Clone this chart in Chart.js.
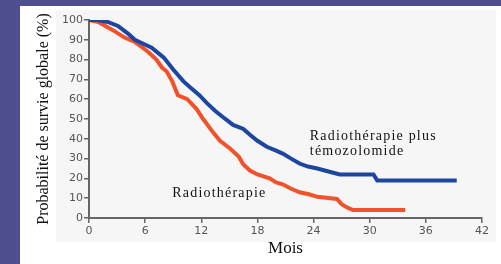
<!DOCTYPE html>
<html>
<head>
<meta charset="utf-8">
<script src="https://cdn.jsdelivr.net/npm/chart.js@4"></script>
<style>
  html, body { margin: 0; padding: 0; background: #4f4f8f; }
  #wrap { position: absolute; left: 0; top: 0; width: 501px; height: 264px; }
  #panel { position: absolute; left: 20px; top: 6px; right: 0; bottom: 0; background: #ffffff; }
  #plotbg { position: absolute; left: 56px; top: 10px; width: 440px; height: 232px; background: #f6f6f6; }
  canvas { position: absolute; left: 0; top: 0; }
</style>
</head>
<body>
<div id="wrap">
  <div id="panel"></div>
  <div id="plotbg"></div>
  <canvas id="myChart" width="501" height="264"></canvas>
</div>
<script>
// Radiothérapie + témozolomide
var monthsRTT = [0, 1, 2, 3.1, 4.2, 4.9, 5.8, 6.7, 8, 9, 10.1, 10.8, 11.8, 12.6, 13.5, 14.3, 15.4, 16.5, 17.2, 18, 19, 20, 20.7, 21.6, 22.5, 23.4, 24.4, 25.6, 26.8, 30.4, 30.8, 39.3];
var survRTT = [100, 100, 99, 97, 93, 90, 88, 86, 81, 75, 69, 66, 62, 58, 54, 51, 47, 45, 42, 39, 36, 34, 32.5, 30, 27.5, 26, 25, 23.5, 22, 22, 19, 19];

// Radiothérapie seule
var monthsRT = [0, 1, 2.5, 3.85, 4.9, 6.3, 7.2, 7.8, 8.3, 8.9, 9.5, 10.5, 11.5, 12.2, 13.3, 14, 15.1, 16, 16.5, 17.2, 18, 19.3, 20, 20.7, 21.5, 22.5, 23.5, 24.4, 26.5, 27, 27.5, 28.2, 33.8];
var survRT = [100, 99, 95, 91, 89, 84, 80, 76, 74, 69, 62, 60, 55, 50, 43, 39, 35, 31, 27, 24, 22, 20, 18, 17, 15, 13, 12, 10.7, 9.6, 7, 5.5, 4, 4];

var xTicks = [0, 6, 12, 18, 24, 30, 36, 42];

function toPoints(xs, ys) {
    return xs.map(function(x, i) { return { x: x, y: ys[i] }; });
}

// text labels placed next to the curves
var curveLabels = [
    { lines: ['Radiothérapie plus', 'témozolomide'], x: 23.6, y: 39.6 },
    { lines: ['Radiothérapie'], x: 8.9, y: 10.7 }
];

var labelPlugin = {
    id: 'curveLabels',
    afterDatasetsDraw: function(chart) {
        var ctx = chart.ctx;
        var xs = chart.scales.x, ys = chart.scales.y;
        ctx.save();
        ctx.fillStyle = '#111';
        ctx.font = '14px "Liberation Serif", "Times New Roman", serif';
        ctx.letterSpacing = '1.2px';
        ctx.textBaseline = 'alphabetic';
        curveLabels.forEach(function(l) {
            var px = xs.getPixelForValue(l.x);
            var py = ys.getPixelForValue(l.y);
            l.lines.forEach(function(t, i) {
                ctx.fillText(t, px, py + i * 15);
            });
        });
        ctx.restore();
    }
};

const ctx = document.getElementById('myChart').getContext('2d');
const myChart = new Chart(ctx, {
    type: 'line',
    data: {
        datasets: [
            {
                label: 'Radiothérapie plus témozolomide',
                data: toPoints(monthsRTT, survRTT),
                borderColor: '#1c46a0',
                borderWidth: 4,
                pointRadius: 0,
                tension: 0
            },
            {
                label: 'Radiothérapie',
                data: toPoints(monthsRT, survRT),
                borderColor: '#f2522b',
                borderWidth: 4,
                pointRadius: 0,
                tension: 0
            }
        ]
    },
    options: {
        responsive: false,
        animation: false,
        layout: { padding: { top: 20, right: 19, left: 0, bottom: 0 } },
        plugins: {
            legend: { display: false },
            tooltip: { enabled: false }
        },
        scales: {
            x: {
                type: 'linear',
                min: 0,
                max: 42,
                afterBuildTicks: function(scale) {
                    scale.ticks = xTicks.map(function(v) { return { value: v }; });
                },
                afterFit: function(scale) { scale.height = 46; },
                grid: { drawOnChartArea: false, drawTicks: true, tickLength: 5, color: '#666', lineWidth: 1.5 },
                border: { color: '#666', width: 2 },
                ticks: {
                    color: '#555',
                    padding: 2,
                    maxRotation: 0,
                    font: { family: '"DejaVu Sans", Verdana, sans-serif', size: 11 }
                },
                title: {
                    display: true,
                    text: 'Mois',
                    color: '#111',
                    padding: { top: 0, bottom: 5 },
                    font: { family: '"Liberation Serif", "Times New Roman", serif', size: 17 }
                }
            },
            y: {
                min: 0,
                max: 100,
                afterFit: function(scale) { scale.width = 89; },
                grid: { drawOnChartArea: false, drawTicks: true, tickLength: 5, color: '#666', lineWidth: 1.5 },
                border: { color: '#666', width: 2 },
                ticks: {
                    stepSize: 10,
                    color: '#555',
                    padding: 1,
                    font: { family: '"DejaVu Sans", Verdana, sans-serif', size: 11 }
                },
                title: {
                    display: true,
                    text: 'Probabilité de survie globale (%)',
                    color: '#111',
                    padding: { top: 34, bottom: 0 },
                    font: { family: '"Liberation Serif", "Times New Roman", serif', size: 16 }
                }
            }
        }
    },
    plugins: [labelPlugin]
});
</script>
</body>
</html>
